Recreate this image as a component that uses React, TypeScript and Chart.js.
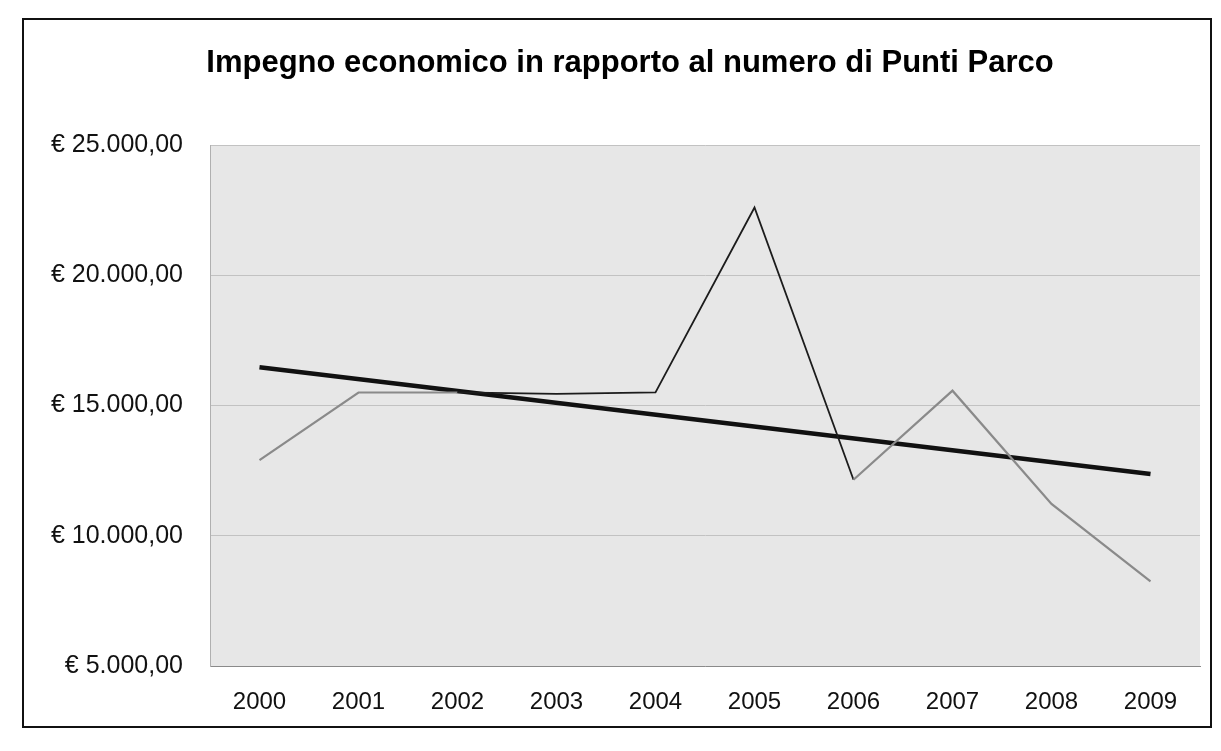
import React, { useEffect, useRef } from "react";
import { Chart, registerables } from "chart.js";

Chart.register(...registerables);

const TITLE = "Impegno economico in rapporto al numero di Punti Parco";
const YEARS = ["2000", "2001", "2002", "2003", "2004", "2005", "2006", "2007", "2008", "2009"];
const VALUES = [12900, 15500, 15500, 15450, 15500, 22600, 12150, 15570, 11220, 8250];
const TREND = [16470, null, null, null, null, null, null, null, null, 12370];
const Y_MIN = 5000;
const Y_MAX = 25000;
const Y_STEP = 5000;

const FONT = '"Liberation Sans", Arial, Helvetica, sans-serif';

function formatEuro(v: number): string {
  const fixed = Math.abs(v).toFixed(2);
  const [intPart, dec] = fixed.split(".");
  const grouped = intPart.replace(/\B(?=(\d{3})+(?!\d))/g, ".");
  return "€ " + (v < 0 ? "-" : "") + grouped + "," + dec;
}

const W = 1190;
const H = 710;

export default function App() {
  const ref = useRef<HTMLCanvasElement | null>(null);

  useEffect(() => {
    if (!ref.current) return;
    const bgPlugin = {
      id: "plotBg",
      beforeDraw(chart: any) {
        const { ctx, chartArea } = chart;
        ctx.save();
        ctx.fillStyle = "#e7e7e7";
        ctx.fillRect(chartArea.left, chartArea.top, chartArea.right - chartArea.left, chartArea.bottom - chartArea.top);
        ctx.restore();
      },
    };
    const titlePlugin = {
      id: "customTitle",
      afterDraw(chart: any) {
        const { ctx } = chart;
        ctx.save();
        ctx.font = `bold 31px ${FONT}`;
        ctx.fillStyle = "#000";
        ctx.textAlign = "center";
        ctx.textBaseline = "alphabetic";
        ctx.fillText(TITLE, 608, 54);
        ctx.restore();
      },
    };
    const darkSeg = (i: number) => i >= 2 && i <= 5;
    const chart = new Chart(ref.current, {
      type: "line",
      data: {
        labels: YEARS,
        datasets: [
          {
            label: "Impegno",
            data: VALUES,
            borderColor: "#8a8a8a",
            borderWidth: 2.2,
            pointRadius: 0,
            tension: 0,
            segment: {
              borderColor: (c: any) => (darkSeg(c.p0DataIndex) ? "#1c1c1c" : "#8a8a8a"),
              borderWidth: (c: any) => (darkSeg(c.p0DataIndex) ? 1.8 : 2.2),
            },
          },
          {
            label: "Tendenza",
            data: TREND,
            borderColor: "#111",
            borderWidth: 4.5,
            pointRadius: 0,
            spanGaps: true,
            tension: 0,
          },
        ],
      },
      options: {
        responsive: false,
        animation: false,
        layout: { padding: { top: 127, right: 12, left: 0, bottom: 0 } },
        plugins: {
          legend: { display: false },
          title: { display: false },
          tooltip: { enabled: false },
        },
        scales: {
          x: {
            offset: true,
            grid: { display: false, drawTicks: false },
            border: { display: true, color: "#8a8a8a", width: 1 },
            ticks: {
              color: "#111",
              padding: 22,
              font: { family: FONT, size: 24 },
              maxRotation: 0,
            },
            afterFit(scale: any) {
              scale.height = 62;
            },
          },
          y: {
            min: Y_MIN,
            max: Y_MAX,
            ticks: {
              stepSize: Y_STEP,
              color: "#111",
              padding: 27,
              font: { family: FONT, size: 25 },
              callback: (v: any) => formatEuro(Number(v)),
            },
            grid: { color: "#c2c2c2", lineWidth: 1, drawTicks: false },
            border: { display: true, color: "#b0b0b0", width: 1 },
            afterFit(scale: any) {
              scale.width = 188;
            },
          },
        },
      },
      plugins: [bgPlugin, titlePlugin],
    });
    return () => chart.destroy();
  }, []);

  return (
    <div>
      <canvas
        ref={ref}
        width={W}
        height={H}
        style={{ position: "absolute", left: 22, top: 18, width: W, height: H, background: "#fff" }}
      />
      <div
        style={{
          position: "absolute",
          left: 22,
          top: 18,
          width: W,
          height: H,
          border: "2px solid #111",
          boxSizing: "border-box",
          pointerEvents: "none",
        }}
      />
    </div>
  );
}
